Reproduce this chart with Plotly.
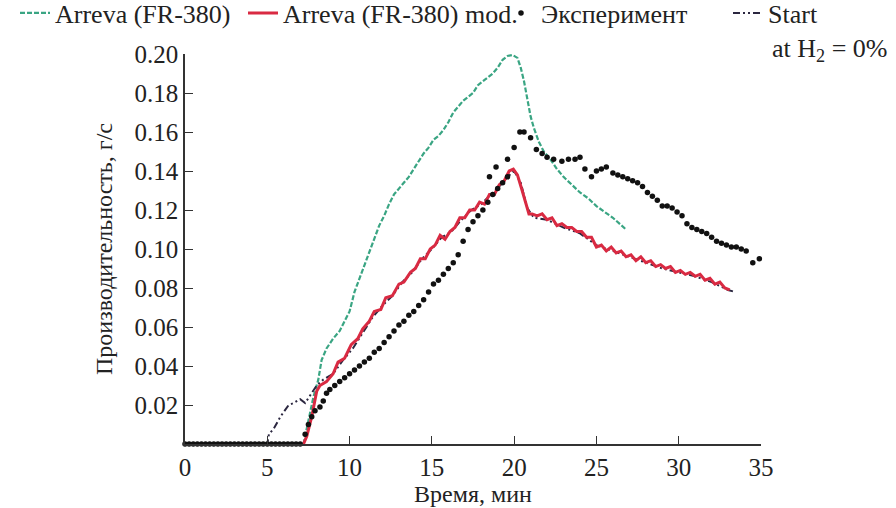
import plotly.graph_objects as go

# ---------------- data ----------------
green_x = [7.2, 7.5, 7.8, 8.1, 8.3, 8.6, 9.0, 9.4, 9.7, 10.0, 10.3, 10.6, 10.9, 11.2, 11.5, 11.8,
           12.1, 12.4, 12.7, 13.0, 13.3, 13.6, 13.9, 14.2, 14.5, 14.8, 15.1, 15.4, 15.7, 16.0,
           16.3, 16.6, 16.9, 17.2, 17.5, 17.8, 18.1, 18.4, 18.7, 19.0, 19.3, 19.6, 19.9, 20.2,
           20.4, 20.6, 20.8, 21.0, 21.2, 21.5, 21.8, 22.2, 22.6, 23.0, 23.5, 24.0, 24.5, 25.0,
           25.5, 26.0, 26.4, 26.8]
green_y = [0.000, 0.012, 0.024, 0.033, 0.043, 0.049, 0.054, 0.058, 0.063, 0.068, 0.078, 0.085,
           0.092, 0.099, 0.106, 0.112, 0.117, 0.123, 0.128, 0.131, 0.134, 0.137, 0.141, 0.145,
           0.149, 0.152, 0.156, 0.158, 0.161, 0.165, 0.170, 0.173, 0.176, 0.178, 0.180, 0.184,
           0.186, 0.188, 0.190, 0.193, 0.197, 0.199, 0.1995, 0.198, 0.193, 0.186, 0.177, 0.168,
           0.162, 0.155, 0.150, 0.146, 0.141, 0.137, 0.133, 0.129, 0.126, 0.122, 0.119, 0.116,
           0.113, 0.110]

red_x = [7.2, 7.4, 7.7, 8.0, 8.2, 8.6, 9.0, 9.3, 9.7, 10.1, 10.5, 10.8, 11.2, 11.5, 11.9, 12.2,
         12.6, 13.0, 13.3, 13.7, 14.0, 14.3, 14.6, 14.9, 15.2, 15.5, 15.8, 16.1, 16.4, 16.7,
         17.0, 17.3, 17.6, 17.9, 18.2, 18.5, 18.8, 19.1, 19.4, 19.7, 19.95, 20.2, 20.45, 20.7,
         20.9, 21.1, 21.4, 21.7, 22.0, 22.3, 22.6, 22.9, 23.2, 23.5, 23.8, 24.1, 24.4, 24.7,
         25.0, 25.3, 25.6, 25.9, 26.2, 26.5, 26.8, 27.1, 27.4, 27.7, 28.0, 28.3, 28.6, 28.9,
         29.2, 29.5, 29.8, 30.1, 30.4, 30.7, 31.0, 31.3, 31.6, 31.9, 32.2, 32.5, 32.8, 33.1]
red_y = [0.000, 0.004, 0.014, 0.027, 0.030, 0.032, 0.036, 0.042, 0.044, 0.051, 0.054, 0.059,
         0.063, 0.068, 0.069, 0.075, 0.076, 0.082, 0.083, 0.088, 0.090, 0.095, 0.095, 0.100,
         0.102, 0.107, 0.105, 0.109, 0.111, 0.116, 0.116, 0.120, 0.120, 0.124, 0.123, 0.128,
         0.128, 0.133, 0.135, 0.140, 0.141, 0.138, 0.131, 0.123, 0.118, 0.118, 0.117, 0.118,
         0.115, 0.116, 0.112, 0.113, 0.111, 0.111, 0.109, 0.109, 0.106, 0.106, 0.101, 0.102,
         0.099, 0.101, 0.098, 0.099, 0.096, 0.097, 0.094, 0.096, 0.093, 0.094, 0.091, 0.092,
         0.090, 0.091, 0.088, 0.089, 0.087, 0.088, 0.086, 0.087, 0.084, 0.085, 0.082, 0.083,
         0.080, 0.079]

start_x = [0.0, 5.0, 5.1, 5.4, 5.8, 6.3, 6.6, 7.0, 7.3, 7.7, 8.0, 8.4, 9.0, 9.6, 10.2, 10.8,
           11.4, 12.0, 12.6, 13.2, 13.8, 14.4, 15.0, 15.6, 16.2, 16.8, 17.4, 18.0, 18.6, 19.2,
           19.6, 20.0, 20.4, 20.8, 21.2, 22.0, 23.0, 24.0, 25.0, 26.0, 27.0, 28.0, 29.0, 30.0,
           31.0, 32.0, 33.0, 33.4]
start_y = [0.000, 0.000, 0.005, 0.008, 0.014, 0.020, 0.021, 0.023, 0.021, 0.026, 0.030, 0.033,
           0.036, 0.043, 0.049, 0.057, 0.065, 0.071, 0.076, 0.083, 0.088, 0.095, 0.100, 0.106,
           0.109, 0.115, 0.120, 0.123, 0.128, 0.133, 0.137, 0.140, 0.134, 0.121, 0.116, 0.115,
           0.111, 0.108, 0.102, 0.099, 0.096, 0.093, 0.090, 0.088, 0.086, 0.083, 0.079, 0.078]

exp_x = [0.0, 0.25, 0.5, 0.75, 1.0, 1.25, 1.5, 1.75, 2.0, 2.25, 2.5, 2.75, 3.0, 3.25, 3.5,
         3.75, 4.0, 4.25, 4.5, 4.75, 5.0, 5.25, 5.5, 5.75, 6.0, 6.25, 6.5, 6.75, 7.0,
         7.3, 7.5, 7.7, 7.9, 8.2, 8.4, 8.6, 8.8, 9.1, 9.4, 9.7, 10.0, 10.3, 10.6, 10.9, 11.2,
         11.5, 11.8, 12.1, 12.4, 12.7, 13.0, 13.3, 13.6, 13.9, 14.2, 14.5, 14.8, 15.1, 15.4,
         15.7, 16.0, 16.3, 16.6, 16.9, 17.2, 17.5, 17.8, 18.1, 18.4, 18.7, 19.0, 19.3, 19.6,
         18.5, 18.9, 19.6, 20.0, 20.35, 20.6, 21.0, 21.35, 21.7, 22.0, 22.4, 22.9, 23.3, 23.7,
         24.0, 24.3, 24.7, 25.0, 25.3, 25.6, 26.0, 26.3, 26.6, 26.9, 27.2, 27.5, 27.8, 28.1,
         28.4, 28.7, 29.0, 29.3, 29.6, 29.9, 30.2, 30.5, 30.8, 31.1, 31.4, 31.7, 32.0, 32.3,
         32.6, 32.9, 33.2, 33.5, 33.8, 34.1, 34.5, 34.9]
exp_y = [0.0, 0.0, 0.0, 0.0, 0.0, 0.0, 0.0, 0.0, 0.0, 0.0, 0.0, 0.0, 0.0, 0.0, 0.0,
         0.0, 0.0, 0.0, 0.0, 0.0, 0.0, 0.0, 0.0, 0.0, 0.0, 0.0, 0.0, 0.0, 0.0,
         0.005, 0.010, 0.014, 0.017, 0.019, 0.022, 0.026, 0.028, 0.030, 0.032, 0.034, 0.036,
         0.038, 0.040, 0.042, 0.044, 0.047, 0.049, 0.052, 0.055, 0.058, 0.061, 0.063, 0.066,
         0.068, 0.071, 0.074, 0.078, 0.082, 0.084, 0.087, 0.090, 0.093, 0.097, 0.104, 0.110,
         0.114, 0.117, 0.120, 0.124, 0.128, 0.131, 0.134, 0.137,
         0.137, 0.142, 0.146, 0.152, 0.160, 0.160, 0.157, 0.151, 0.149, 0.147, 0.146, 0.145,
         0.146, 0.146, 0.147, 0.141, 0.137, 0.140, 0.141, 0.142, 0.139, 0.138, 0.137, 0.136,
         0.135, 0.134, 0.132, 0.129, 0.127, 0.125, 0.122, 0.122, 0.121, 0.119, 0.117, 0.113,
         0.111, 0.110, 0.109, 0.108, 0.106, 0.104, 0.103, 0.102, 0.101, 0.101, 0.100, 0.099,
         0.093, 0.095]

x_ticks = [0, 5, 10, 15, 20, 25, 30, 35]
y_ticks = [0.02, 0.04, 0.06, 0.08, 0.10, 0.12, 0.14, 0.16, 0.18, 0.20]
y_tick_text = ["0.02", "0.04", "0.06", "0.08", "0.10", "0.12", "0.14", "0.16", "0.18", "0.20"]

# ---------------- figure ----------------
FONT = "Liberation Serif, Times New Roman, serif"
FS = 25      # tick labels
FS_T = 24    # axis titles
FS_L = 26    # legend
TXT = "#222222"
AX = "#333333"

fig = go.Figure()

fig.add_trace(go.Scatter(
    x=green_x, y=green_y, mode="lines", name="Arreva (FR-380)",
    line=dict(color="#3aa583", width=2.2, dash="5px,2px"),
    cliponaxis=False, legend="legend2"))

fig.add_trace(go.Scatter(
    x=start_x, y=start_y, mode="lines", name="Start",
    line=dict(color="#2b2740", width=2, dash="7px,3px,2px,3px,2px,3px"),
    cliponaxis=False, legend="legend5"))

fig.add_trace(go.Scatter(
    x=red_x, y=red_y, mode="lines", name="Arreva (FR-380) mod.",
    line=dict(color="#d92a42", width=3),
    cliponaxis=False, legend="legend3"))

fig.add_trace(go.Scatter(
    x=exp_x, y=exp_y, mode="markers", name="Эксперимент",
    marker=dict(color="#111111", size=5.5),
    cliponaxis=False, legend="legend4"))

W, H = 896, 508
L, R, T, B = 185, 135, 54, 64
pw, ph = W - L - R, H - T - B


def px2x(px):
    return (px - L) / pw


def py2y(py):
    return (H - B - py) / ph


def cx(px):
    return px / W


def cy(py):
    return 1 - py / H


leg_common = dict(orientation="h", xanchor="left", yanchor="middle",
                  xref="container", yref="container", y=cy(13),
                  bgcolor="rgba(0,0,0,0)", borderwidth=0,
                  font=dict(family=FONT, size=FS_L, color=TXT))

fig.update_layout(
    width=W, height=H,
    margin=dict(l=L, r=R, t=T, b=B, pad=0, autoexpand=False),
    paper_bgcolor="white", plot_bgcolor="white",
    font=dict(family=FONT, size=FS, color=TXT),
    legend2=dict(x=cx(15), **leg_common),
    legend3=dict(x=cx(243), **leg_common),
    legend4=dict(x=cx(501), **leg_common),
    legend5=dict(x=cx(728), **leg_common),
    xaxis=dict(range=[0, 35], tickvals=x_ticks, ticks="inside", ticklen=8, tickwidth=1.3,
               tickcolor=AX, showline=True, linecolor=AX, linewidth=1.5, showgrid=False,
               zeroline=False, tickfont=dict(family=FONT, size=FS, color=TXT),
               title=dict(text="Время, мин", font=dict(family=FONT, size=FS_T, color=TXT),
                          standoff=3)),
    yaxis=dict(range=[0, 0.2], tickvals=y_ticks, ticktext=y_tick_text, ticks="inside",
               ticklen=8, tickwidth=1.3, tickcolor=AX, showline=True, linecolor=AX,
               linewidth=1.5, showgrid=False, zeroline=False,
               tickfont=dict(family=FONT, size=FS, color=TXT),
               title=dict(text="Производительность, г/с",
                          font=dict(family=FONT, size=FS_T, color=TXT), standoff=15)),
    annotations=[dict(text="at H<sub>2</sub> = 0%", x=px2x(770), y=py2y(50),
                      xref="paper", yref="paper", xanchor="left", yanchor="middle",
                      showarrow=False, font=dict(family=FONT, size=FS_L, color=TXT))],
)

fig.write_html("out.html")
